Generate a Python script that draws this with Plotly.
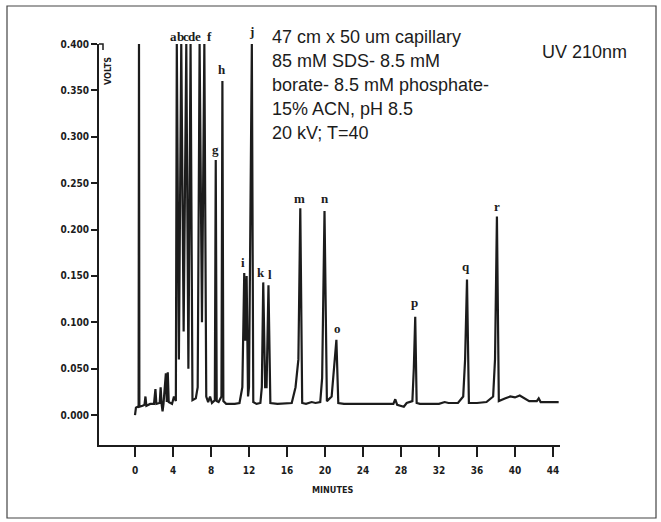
import plotly.graph_objects as go

# ---- data ----
time_min = [0.0, 0.1, 0.3, 0.38, 0.42, 0.46, 0.8, 1.0, 1.1, 1.2, 1.6, 2.0, 2.15, 2.25, 2.6, 2.7, 2.8, 2.9,
            3.0, 3.25, 3.35, 3.45, 3.55, 3.9, 4.1, 4.3, 4.4, 4.62, 4.87, 5.12, 5.4, 5.62, 5.85, 6.05,
            6.4, 6.6, 6.8, 7.05, 7.3, 7.5, 7.7, 7.9, 8.1, 8.4, 8.5, 8.6, 8.8, 9.1, 9.2, 9.3, 9.6,
            10.5, 11.0, 11.3, 11.5, 11.6, 11.75, 11.9, 12.0, 12.3, 12.45, 12.8, 13.2, 13.35, 13.5,
            13.7, 13.85, 14.05, 14.25, 15.0, 16.5, 16.9, 17.2, 17.4, 17.6, 18.0, 18.6, 19.0, 19.5,
            19.7, 19.95, 20.1, 20.2, 20.7, 20.95, 21.2, 21.4, 22.0, 24.0, 26.0, 27.2, 27.4, 27.6,
            28.3, 28.6, 29.2, 29.35, 29.5, 29.65, 30.0, 31.0, 32.0, 32.6, 33.0, 34.0, 34.55, 34.75,
            34.95, 35.15, 36.0, 37.0, 37.7, 37.9, 38.1, 38.3, 38.6, 39.0, 39.5, 40.0, 40.5, 41.0,
            41.5, 42.3, 42.5, 42.7, 44.6]
volts = [0.000, 0.008, 0.009, 0.009, 0.400, 0.009, 0.010, 0.011, 0.020, 0.010, 0.012, 0.012, 0.028, 0.012,
         0.013, 0.030, 0.012, 0.004, 0.012, 0.045, 0.014, 0.046, 0.014, 0.012, 0.020, 0.015, 0.400, 0.060,
         0.400, 0.090, 0.400, 0.050, 0.400, 0.016, 0.018, 0.030, 0.400, 0.100, 0.400, 0.020, 0.014, 0.020,
         0.013, 0.016, 0.275, 0.015, 0.014, 0.020, 0.360, 0.015, 0.012, 0.012, 0.013, 0.030, 0.153, 0.080,
         0.150, 0.020, 0.030, 0.400, 0.014, 0.012, 0.013, 0.030, 0.143, 0.030, 0.030, 0.140, 0.013, 0.012,
         0.013, 0.030, 0.060, 0.223, 0.013, 0.012, 0.014, 0.013, 0.014, 0.040, 0.220, 0.060, 0.015, 0.020,
         0.050, 0.081, 0.013, 0.012, 0.012, 0.012, 0.012, 0.017, 0.011, 0.009, 0.013, 0.015, 0.050, 0.106,
         0.013, 0.012, 0.012, 0.012, 0.014, 0.013, 0.013, 0.020, 0.060, 0.146, 0.013, 0.013, 0.014, 0.020,
         0.060, 0.214, 0.015, 0.016, 0.018, 0.020, 0.019, 0.021, 0.018, 0.015, 0.015, 0.018, 0.014, 0.014]

peak_names = ["a", "b", "c", "d", "e", "f", "g", "h", "i", "j", "k", "l", "m", "n", "o", "p", "q", "r"]
label_time = [4.0, 4.74, 5.37, 6.0, 6.63, 7.79, 8.5, 9.2, 11.4, 12.3, 13.3, 14.2, 17.3, 19.95, 21.3,
              29.4, 34.8, 38.1]
label_volts = [0.408, 0.408, 0.408, 0.408, 0.408, 0.408, 0.286, 0.372, 0.164, 0.414, 0.154, 0.151,
               0.233, 0.233, 0.093, 0.121, 0.160, 0.225]

x_ticks = [0, 4, 8, 12, 16, 20, 24, 28, 32, 36, 40, 44]
y_ticks = [0.0, 0.05, 0.10, 0.15, 0.20, 0.25, 0.30, 0.35, 0.40]

conditions = ["47 cm x 50 um capillary", "85 mM SDS- 8.5 mM", "borate- 8.5 mM phosphate-",
              "15% ACN, pH 8.5", "20 kV; T=40"]
detector = "UV 210nm"

# ---- figure ----
W, H = 661, 522
L, R, T, B = 99, 101, 44, 77
pw, ph = W - L - R, H - T - B
YMIN, YMAX = -0.0323, 0.400
XMIN, XMAX = -3.79, 44.74


def px(xp):
    return (xp - L) / pw


def py(yp):
    return (H - B - yp) / ph


ink = "#1c1c1c"
fig = go.Figure()
fig.add_trace(go.Scatter(x=time_min, y=volts, mode="lines",
                         line=dict(color=ink, width=2.2), hoverinfo="skip"))

ann = []
for n, t, v in zip(peak_names, label_time, label_volts):
    # peak letters sit partly above the top of the value axis, so place them in paper units
    ann.append(dict(x=t, y=(v - YMIN) / (YMAX - YMIN), xref="x", yref="paper", text=n, showarrow=False,
                    font=dict(family="Liberation Serif", size=13, color=ink, weight="bold"),
                    xanchor="center", yanchor="middle"))

line_y = [37, 61, 85, 109, 133]
for txt, yp in zip(conditions, line_y):
    ann.append(dict(x=px(270), y=py(yp), xref="paper", yref="paper", text=txt, showarrow=False,
                    xanchor="left", yanchor="middle",
                    font=dict(family="Liberation Sans", size=18, color=ink)))
ann.append(dict(x=px(540), y=py(52), xref="paper", yref="paper", text=detector, showarrow=False,
                xanchor="left", yanchor="middle",
                font=dict(family="Liberation Sans", size=18, color=ink)))
ann.append(dict(x=px(332), y=py(490), xref="paper", yref="paper", text="MINUTES", showarrow=False,
                xanchor="center", yanchor="middle",
                font=dict(family="DejaVu Sans Condensed", size=9, color=ink, weight="bold")))
ann.append(dict(x=px(108), y=py(71), xref="paper", yref="paper", text="VOLTS", showarrow=False,
                textangle=-90, xanchor="center", yanchor="middle",
                font=dict(family="DejaVu Sans Condensed", size=9, color=ink, weight="bold")))

fig.update_layout(
    width=W, height=H, margin=dict(l=L, r=R, t=T, b=B),
    paper_bgcolor="white", plot_bgcolor="white", showlegend=False,
    annotations=ann,
    shapes=[
        dict(type="rect", xref="paper", yref="paper", x0=px(7), x1=px(656), y0=py(518), y1=py(6),
             line=dict(color="#444", width=1.2), layer="below"),
        dict(type="path", xref="paper", yref="paper",
             path=f"M {px(99)},{py(44)} L {px(103)},{py(44)} L {px(103)},{py(50)}",
             line=dict(color=ink, width=1.5)),
    ],
)
fig.update_xaxes(range=[XMIN, XMAX], tickvals=x_ticks, ticktext=[str(v) for v in x_ticks],
                 showgrid=False, zeroline=False, showline=True, linecolor=ink, linewidth=2,
                 ticks="outside", ticklen=10, tickwidth=1.5, tickcolor=ink, ticklabelstandoff=5,
                 tickfont=dict(family="DejaVu Sans Condensed", size=10, color=ink, weight="bold"))
fig.update_yaxes(range=[YMIN, YMAX], tickvals=y_ticks, tickformat=".3f",
                 showgrid=False, zeroline=False, showline=True, linecolor=ink, linewidth=2,
                 ticks="outside", ticklen=6, tickwidth=1.5, tickcolor=ink,
                 tickfont=dict(family="DejaVu Sans Condensed", size=10, color=ink, weight="bold"))

fig.write_html("out.html")
